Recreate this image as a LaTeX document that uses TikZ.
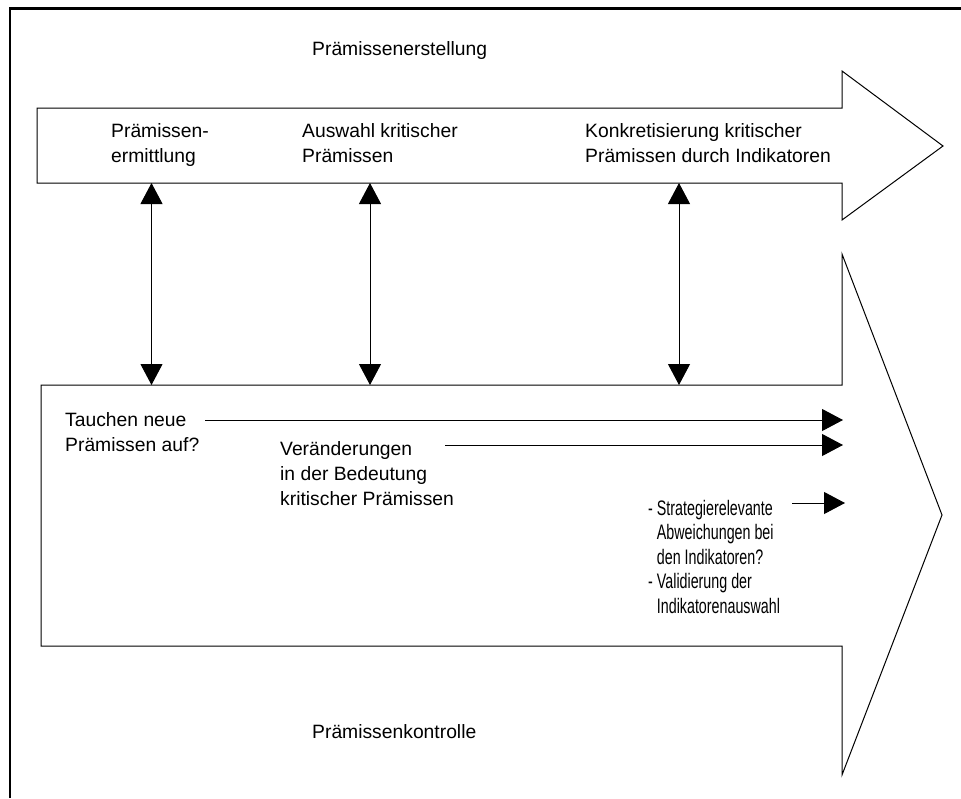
\documentclass[tikz,border=0pt]{standalone}
\usepackage{fontspec}
\setmainfont{Liberation Sans}
\newfontfamily\narrowsans[FakeStretch=0.68]{Liberation Sans}
\usetikzlibrary{arrows.meta}
\begin{document}
\begin{tikzpicture}[x=1pt,y=-1pt,
  outline/.style={draw=black,line width=1pt,line join=miter},
  % multi-line labels are placed by the baseline of their last line
  lbl/.style={anchor=base west,inner sep=0pt,align=left,
    font=\fontsize{19.3pt}{25pt}\selectfont},
  link/.style={line width=1pt,{Triangle[width=22pt,length=21pt]}-{Triangle[width=22pt,length=21pt]}},
  flow/.style={line width=1pt,-{Triangle[width=22pt,length=21pt]}}]
\useasboundingbox (0,0) rectangle (961,798);
% frame edges
\draw[line width=2.5pt] (10,798) -- (10,8.7) -- (961,8.7);
% upper block arrow: premise set-up
\draw[outline] (37,108) -- (842,108) -- (842,71) -- (943,146) -- (842,220)
  -- (842,183) -- (37,183) -- cycle;
% lower block arrow: premise control
\draw[outline] (41,385) -- (842,385) -- (842,254) -- (942,515) -- (842,775)
  -- (842,646) -- (41,646) -- cycle;
% anchor points on the two arrows
\coordinate (u1) at (151.5,183);
\coordinate (u2) at (370,183);
\coordinate (u3) at (679,183);
\coordinate (l1) at (151.5,385);
\coordinate (l2) at (370,385);
\coordinate (l3) at (679,385);
\draw[link] (u1) -- (l1);
\draw[link] (u2) -- (l2);
\draw[link] (u3) -- (l3);
% labels
\node[lbl] (title1) at (312,55) {Prämissenerstellung};
\node[lbl] (title2) at (312,738) {Prämissenkontrolle};
\node[lbl] (s1) at (111,162) {Prämissen-\\ermittlung};
\node[lbl] (s2) at (302,162) {Auswahl kritischer\\Prämissen};
\node[lbl] (s3) at (585,162) {Konkretisierung kritischer\\Prämissen durch Indikatoren};
\node[lbl] (q1) at (65,451) {Tauchen neue\\Prämissen auf?};
\node[lbl] (q2) at (280,505) {Veränderungen\\in der Bedeutung\\kritischer Prämissen};
\node[lbl,font=\narrowsans\fontsize{21pt}{24.5pt}\selectfont] (q3) at (648,613)
  {- Strategierelevante\\\phantom{- }Abweichungen bei\\\phantom{- }den Indikatoren?\\- Validierung der\\\phantom{- }Indikatorenauswahl};
% check flows
\coordinate (f1a) at (205,420);
\coordinate (f1b) at (843,420);
\coordinate (f2a) at (445,445);
\coordinate (f2b) at (843,445);
\coordinate (f3a) at (792,503);
\coordinate (f3b) at (845,503);
\draw[flow] (f1a) -- (f1b);
\draw[flow] (f2a) -- (f2b);
\draw[flow] (f3a) -- (f3b);
\end{tikzpicture}
\end{document}
